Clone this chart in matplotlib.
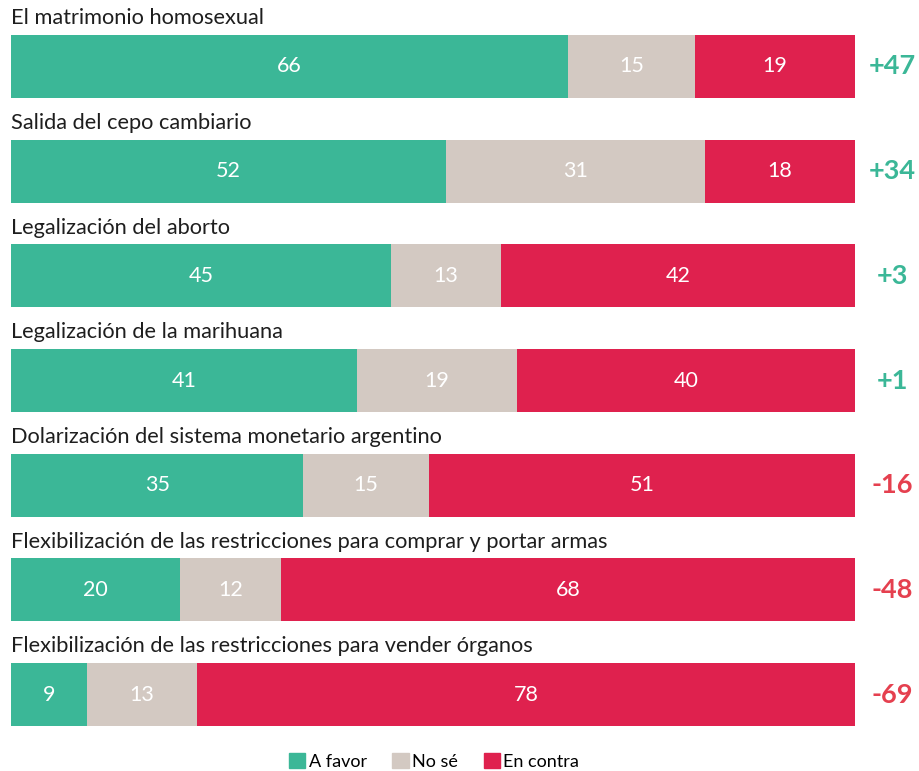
import matplotlib.pyplot as plt
from matplotlib.patches import Patch

plt.rcParams['font.family'] = ['Lato', 'DejaVu Sans']

temas = [
    "El matrimonio homosexual",
    "Salida del cepo cambiario",
    "Legalización del aborto",
    "Legalización de la marihuana",
    "Dolarización del sistema monetario argentino",
    "Flexibilización de las restricciones para comprar y portar armas",
    "Flexibilización de las restricciones para vender órganos",
]
a_favor = [66, 52, 45, 41, 35, 20, 9]
no_se = [15, 31, 13, 19, 15, 12, 13]
en_contra = [19, 18, 42, 40, 51, 68, 78]
neto = ["+47", "+34", "+3", "+1", "-16", "-48", "-69"]

verde = "#3bb797"
beige = "#d3c9c2"
rojo = "#df214e"
rojo_txt = "#e5404f"

fig = plt.figure(figsize=(9.2, 7.71), dpi=100)
ax = fig.add_axes([0, 0, 1, 1])

# mapear pixeles: barra de 11px a 855px, centros cada ~104.67px
ax.set_xlim(-11 / 844, (920 - 11) / 844)
ax.set_ylim((771 - 66.5) / 104.67, -66.5 / 104.67)
ax.axis('off')

for i in range(len(temas)):
    total = a_favor[i] + no_se[i] + en_contra[i]
    partes = [a_favor[i], no_se[i], en_contra[i]]
    colores = [verde, beige, rojo]
    left = 0
    for v, c in zip(partes, colores):
        w = v / total
        ax.barh(i, w, left=left, height=0.6, color=c, edgecolor='none')
        ax.text(left + w / 2, i, str(v), ha='center', va='center',
                color='white', fontsize=15.5)
        left += w
    ax.text(0, i - 0.46, temas[i], ha='left', va='center',
            fontsize=15.7, color='#1e1e1e')
    ax.text(1.044, i, neto[i], ha='center', va='center', fontsize=19.5,
            fontweight='bold', color=verde if neto[i].startswith('+') else rojo_txt)

handles = [Patch(color=verde, label='A favor'),
           Patch(color=beige, label='No sé'),
           Patch(color=rojo, label='En contra')]
fig.legend(handles=handles, loc='center', bbox_to_anchor=(0.472, 0.012),
           ncol=3, frameon=False, fontsize=13, handlelength=0.9,
           handleheight=0.9, handletextpad=0.2, columnspacing=1.4)

fig.savefig('out.png', dpi=100)
